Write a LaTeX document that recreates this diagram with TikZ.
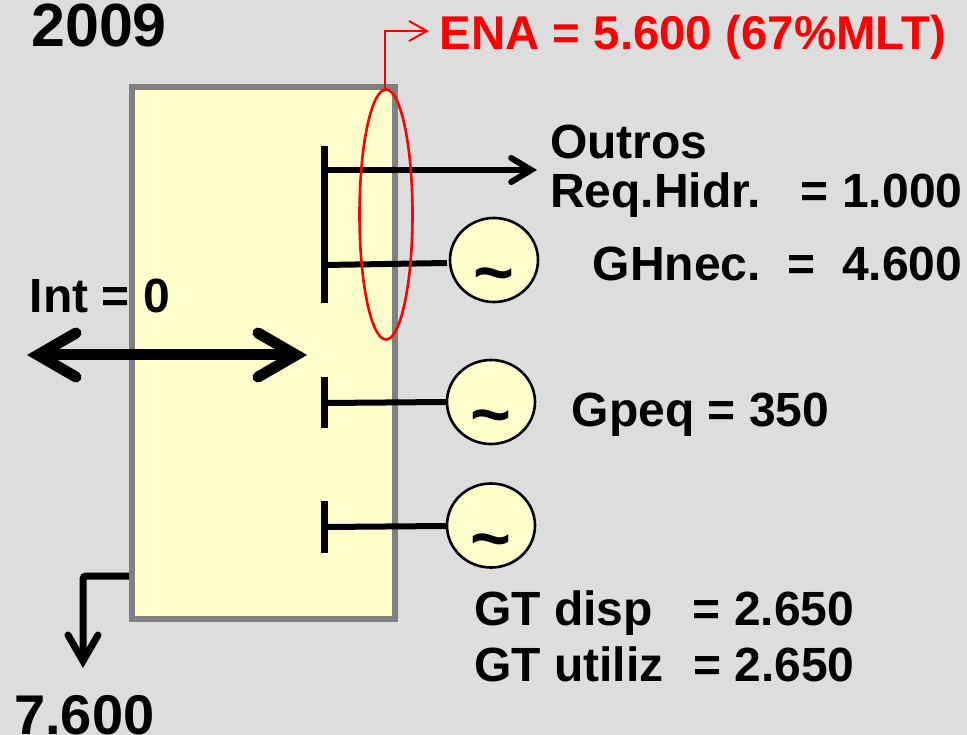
\documentclass[tikz,border=0pt]{standalone}
\usepackage{fontspec}
\setmainfont{Liberation Sans}
\usetikzlibrary{arrows.meta,shapes.geometric}
\definecolor{bgc}{HTML}{DDDDDD}
\definecolor{boxc}{HTML}{FFFFCC}
\definecolor{gridc}{HTML}{808080}
\tikzset{
 lbl/.style={font=\fontsize{48}{52}\bfseries\selectfont,inner sep=0pt,anchor=base west,text=black},
 gen/.style={ellipse,draw=black,line width=2.6pt,fill=boxc,minimum width=88pt,minimum height=84pt,inner sep=0pt,font=\fontsize{70}{70}\bfseries\selectfont},
 busbar/.style={line width=7pt},
 feeder/.style={line width=6pt},
}
\newcommand{\tld}{\raisebox{-37pt}[0pt][0pt]{\textasciitilde}}
\begin{document}
\begin{tikzpicture}[x=1pt,y=-1pt]
\useasboundingbox[fill=bgc] (0,0) rectangle (967,735);
\node[draw=gridc,line width=6pt,fill=boxc,minimum width=263pt,minimum height=532pt,inner sep=0pt,outer sep=0pt] (sub) at (263.5,353) {};
\coordinate (b1t) at (324.5,146); \coordinate (b1b) at (324.5,303);
\coordinate (b2t) at (324.5,377); \coordinate (b2b) at (324.5,428);
\coordinate (b3t) at (324.5,501); \coordinate (b3b) at (324.5,553);
\draw[busbar] (b1t)--(b1b);
\draw[busbar] (b2t)--(b2b);
\draw[busbar] (b3t)--(b3b);
\node[gen] (g1) at (494,260) {\tld};
\node[gen] (g2) at (491,402) {\tld};
\node[gen] (g3) at (491,525.5) {\tld};
\coordinate (f1) at (325,265); \coordinate (f2) at (325,403); \coordinate (f3) at (325,527);
\coordinate (f1e) at (447,263); \coordinate (f2e) at (446,402); \coordinate (f3e) at (446,526);
\draw[feeder] (f1)--(f1e);
\draw[feeder] (f2)--(f2e);
\draw[feeder] (f3)--(f3e);
\coordinate (o1) at (325,170); \coordinate (o2) at (537,170);
\draw[feeder,-{Straight Barb[length=20pt,width=24pt,line width=6pt,line cap=round,line join=miter]}] (o1)--(o2);
\coordinate (i1) at (27,355); \coordinate (i2) at (307,355);
\draw[line width=11pt,{Straight Barb[length=38pt,width=44pt,line width=11pt,line cap=round,line join=miter]}-{Straight Barb[length=38pt,width=44pt,line width=11pt,line cap=round,line join=miter]}] (i1)--(i2);
\coordinate (c1) at (129,576); \coordinate (c2) at (83,576); \coordinate (c3) at (83,668);
\draw[line width=7pt,rounded corners=3pt,-{Straight Barb[length=26pt,width=30pt,line width=7pt,line cap=round,line join=miter]}] (c1)--(c2)--(c3);
\node[draw=red,line width=2.6pt,ellipse,minimum width=53pt,minimum height=250pt,inner sep=0pt,outer sep=0pt] (ell) at (386,214.5) {};
\coordinate (e2) at (385,31); \coordinate (e3) at (429,31);
\draw[red,line width=2pt,-{Straight Barb[length=18pt,width=20pt,line width=2pt]}] (ell.north -| e2)--(e2)--(e3);
\node[lbl,font=\fontsize{61}{64}\bfseries\selectfont] (t0) at (31,46.5) {2009};
\node[lbl,text=red,font=\fontsize{47.4}{50}\bfseries\selectfont] (t1) at (439.5,50) {ENA = 5.600 (67\%MLT)};
\node[lbl] (t2) at (550,159) {Outros};
\node[lbl] (t3) at (550,208) {Req.Hidr.~~~= 1.000};
\node[lbl] (t4) at (592.5,281) {GHnec.~~=~~4.600};
\node[lbl] (t5) at (29.5,313) {Int = 0};
\node[lbl] (t6) at (571.5,426) {Gpeq = 350};
\node[lbl] (t7) at (474,625) {GT disp~~~= 2.650};
\node[lbl] (t8) at (474,681.5) {GT utiliz~~\kern3pt= 2.650};
\node[lbl,font=\fontsize{56}{58}\bfseries\selectfont] (t9) at (14,734) {7.600};
\end{tikzpicture}
\end{document}
